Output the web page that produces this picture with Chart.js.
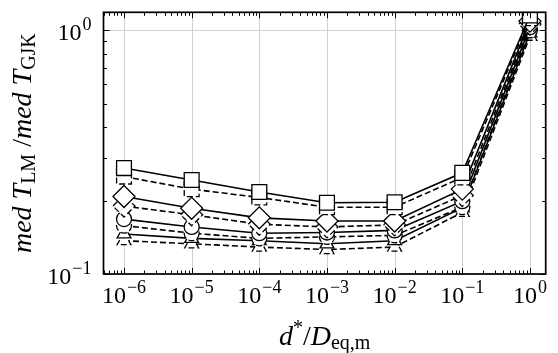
<!DOCTYPE html>
<html>
<head>
<meta charset="utf-8">
<script src="https://cdn.jsdelivr.net/npm/chart.js@4"></script>
<style>
html, body { margin: 0; padding: 0; background: #fff; }
</style>
</head>
<body>
<canvas id="chart" width="558" height="353"></canvas>
<script>
// --- Data ---
const xValues = [1e-6, 1e-5, 1e-4, 1e-3, 1e-2, 1e-1, 1];
const xTickLabels = [-6, -5, -4, -3, -2, -1, 0];
const yTickLabels = [-1, 0];

const squareSolid   = [0.272, 0.243, 0.217, 0.196, 0.197, 0.260, 1.15];
const squareDashed  = [0.251, 0.223, 0.206, 0.188, 0.188, 0.249, 1.12];
const diamondSolid  = [0.208, 0.186, 0.170, 0.165, 0.165, 0.223, 1.09];
const diamondDashed = [0.190, 0.175, 0.160, 0.156, 0.159, 0.210, 1.06];
const circleSolid   = [0.168, 0.156, 0.147, 0.148, 0.151, 0.199, 1.03];
const circleDashed  = [0.158, 0.147, 0.140, 0.142, 0.144, 0.188, 1.00];
const triSolid      = [0.146, 0.140, 0.137, 0.133, 0.137, 0.187, 0.975];
const triDashed     = [0.137, 0.133, 0.129, 0.126, 0.129, 0.179, 0.945];

const DASH = [6, 3];
const SERIF = '"Liberation Serif", "DejaVu Serif", serif';

function series(values, style, radius, dashed) {
    return {
        data: xValues.map((x, i) => ({ x: x, y: values[i] })),
        borderColor: '#000',
        borderWidth: 1.6,
        borderDash: dashed ? DASH : [],
        pointStyle: style,
        pointRadius: radius,
        pointBorderWidth: 1.3,
        pointBorderColor: '#000',
        pointBackgroundColor: '#fff',
        markerDash: dashed ? DASH : null,
        tension: 0
    };
}

// --- Text helpers ---
function drawPow(ctx, exp, x, y, align) {
    const base = '10';
    const sup = exp < 0 ? '\u2212' + (-exp) : String(exp);
    ctx.font = '24px ' + SERIF;
    const wb = ctx.measureText(base).width;
    ctx.font = '18px ' + SERIF;
    const ws = ctx.measureText(sup).width + 1;
    const w = wb + ws;
    let x0 = align === 'right' ? x - w : x - w / 2;
    ctx.textAlign = 'left';
    ctx.textBaseline = 'alphabetic';
    ctx.font = '24px ' + SERIF;
    ctx.fillText(base, x0, y);
    ctx.font = '18px ' + SERIF;
    ctx.fillText(sup, x0 + wb + 1, y - 10);
}

// parts: [text, font, dy]
function drawParts(ctx, parts, cx, y) {
    let w = 0;
    parts.forEach(p => { ctx.font = p[1]; w += ctx.measureText(p[0]).width; });
    let x = cx - w / 2;
    ctx.textAlign = 'left';
    ctx.textBaseline = 'alphabetic';
    parts.forEach(p => {
        ctx.font = p[1];
        ctx.fillText(p[0], x, y + (p[2] || 0));
        x += ctx.measureText(p[0]).width;
    });
}

// --- Plugins ---
const markerDashPlugin = {
    id: 'markerDash',
    beforeDatasetDraw(chart, args) {
        const ds = chart.data.datasets[args.index];
        chart.ctx.save();
        chart.ctx.setLineDash(ds.markerDash || []);
    },
    afterDatasetDraw(chart) {
        chart.ctx.restore();
    }
};

const axesPlugin = {
    id: 'axesFrame',
    beforeDatasetsDraw(chart) {
        const { ctx, chartArea: a, scales: { x, y } } = chart;
        ctx.save();
        ctx.strokeStyle = '#d0d0d0';
        ctx.lineWidth = 1;
        xValues.forEach(v => {
            const px = Math.round(x.getPixelForValue(v)) + 0.5;
            ctx.beginPath(); ctx.moveTo(px, a.top); ctx.lineTo(px, a.bottom); ctx.stroke();
        });
        [0.1, 1].forEach(v => {
            const py = Math.round(y.getPixelForValue(v)) + 0.5;
            ctx.beginPath(); ctx.moveTo(a.left, py); ctx.lineTo(a.right, py); ctx.stroke();
        });
        ctx.restore();
    },
    afterDatasetsDraw(chart) {
        const { ctx, chartArea: a, scales: { x, y } } = chart;
        ctx.save();
        ctx.strokeStyle = '#000';
        ctx.fillStyle = '#000';
        ctx.lineWidth = 1;

        // inward ticks
        for (let k = -7; k <= 0; k++) {
            for (let m = 1; m <= 9; m++) {
                const v = m * Math.pow(10, k);
                const len = m === 1 ? 6 : 3.5;
                if (v >= x.min && v <= x.max) {
                    const px = Math.round(x.getPixelForValue(v)) + 0.5;
                    ctx.beginPath();
                    ctx.moveTo(px, a.bottom); ctx.lineTo(px, a.bottom - len);
                    ctx.moveTo(px, a.top); ctx.lineTo(px, a.top + len);
                    ctx.stroke();
                }
                if (v >= y.min && v <= y.max) {
                    const py = Math.round(y.getPixelForValue(v)) + 0.5;
                    ctx.beginPath();
                    ctx.moveTo(a.left, py); ctx.lineTo(a.left + len, py);
                    ctx.moveTo(a.right, py); ctx.lineTo(a.right - len, py);
                    ctx.stroke();
                }
            }
        }

        // frame
        ctx.lineWidth = 1.7;
        ctx.strokeRect(a.left, a.top, a.right - a.left, a.bottom - a.top);

        // tick labels
        xTickLabels.forEach(e => drawPow(ctx, e, x.getPixelForValue(Math.pow(10, e)), a.bottom + 29, 'center'));
        yTickLabels.forEach(e => drawPow(ctx, e, a.left - 12, y.getPixelForValue(Math.pow(10, e)) + 10, 'right'));

        // axis titles
        const it = 'italic 28px ' + SERIF;
        const rm = '28px ' + SERIF;
        const sm = '20px ' + SERIF;
        drawParts(ctx, [
            ['d', it], ['*', sm, -11], ['/', rm], ['D', it], ['eq,m', sm, 4]
        ], (a.left + a.right) / 2, 345);

        ctx.save();
        ctx.translate(31, (a.top + a.bottom) / 2);
        ctx.rotate(-Math.PI / 2);
        drawParts(ctx, [
            ['med', it], [' T', it], ['LM', sm, 4], [' /', rm], ['med', it], [' T', it], ['GJK', sm, 4]
        ], 0, 0);
        ctx.restore();

        ctx.restore();
    }
};

// --- Chart ---
new Chart(document.getElementById('chart'), {
    type: 'line',
    data: {
        datasets: [
            series(squareSolid, 'rect', 10.5, false),
            series(squareDashed, 'rect', 10.5, true),
            series(diamondSolid, 'rectRot', 11, false),
            series(diamondDashed, 'rectRot', 11, true),
            series(circleSolid, 'circle', 7.5, false),
            series(circleDashed, 'circle', 7.5, true),
            series(triSolid, 'triangle', 8, false),
            series(triDashed, 'triangle', 8, true)
        ]
    },
    options: {
        responsive: false,
        animation: false,
        devicePixelRatio: 1,
        layout: { padding: { left: 95.5, top: 5, right: 5, bottom: 71 } },
        plugins: { legend: { display: false }, tooltip: { enabled: false } },
        scales: {
            x: {
                type: 'logarithmic',
                min: Math.pow(10, -6.303),
                max: Math.pow(10, 0.233),
                grid: { display: false },
                border: { display: false },
                ticks: { display: false }
            },
            y: {
                type: 'logarithmic',
                min: 0.1,
                max: 1.185,
                grid: { display: false },
                border: { display: false },
                ticks: { display: false }
            }
        }
    },
    plugins: [markerDashPlugin, axesPlugin]
});
</script>
</body>
</html>
